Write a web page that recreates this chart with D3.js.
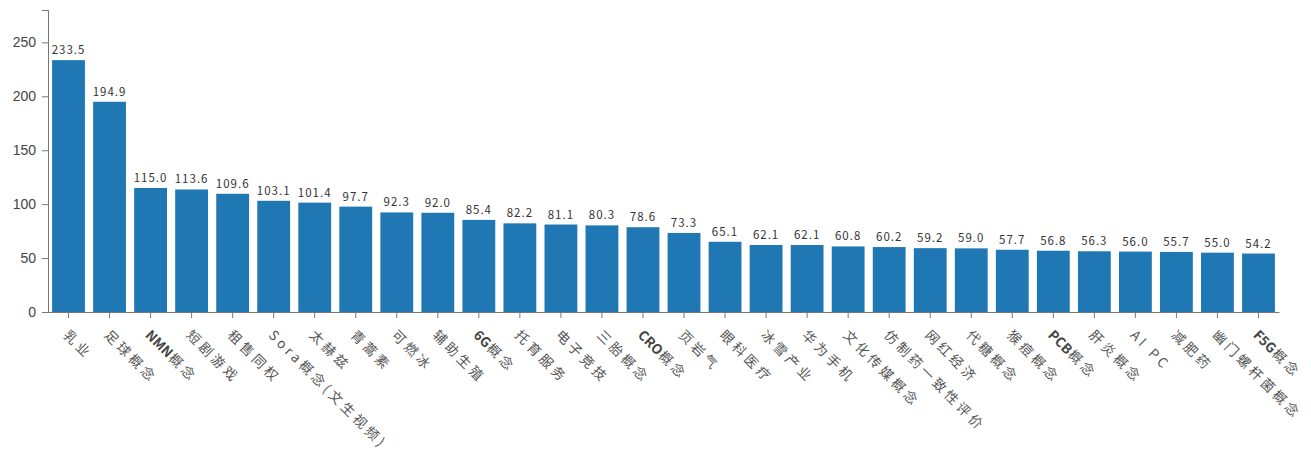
<!DOCTYPE html>
<html>
<head>
<meta charset="utf-8">
<script src="https://cdn.jsdelivr.net/npm/d3@7"></script>
<style>
  html, body { margin: 0; padding: 0; background: #fff; }
  svg { display: block; }
</style>
</head>
<body>
<svg id="chart" width="1311" height="459"></svg>
<script>
const categories = ["乳业","足球概念","NMN概念","短剧游戏","租售同权","Sora概念(文生视频)","太赫兹","青蒿素","可燃冰","辅助生殖","6G概念","托育服务","电子竞技","三胎概念","CRO概念","页岩气","眼科医疗","冰雪产业","华为手机","文化传媒概念","仿制药一致性评价","网红经济","代糖概念","猴痘概念","PCB概念","肝炎概念","AI PC","减肥药","幽门螺杆菌概念","F5G概念"];
const values = [233.5,194.9,115.0,113.6,109.6,103.1,101.4,97.7,92.3,92.0,85.4,82.2,81.1,80.3,78.6,73.3,65.1,62.1,62.1,60.8,60.2,59.2,59.0,57.7,56.8,56.3,56.0,55.7,55.0,54.2];
const yTicks = [0,50,100,150,200,250];

const svg = d3.select("#chart");
const mLeft = 48, mRight = 1279, mTop = 10, mBottom = 312;

const x = d3.scaleBand().domain(categories).range([mLeft, mRight]).paddingInner(0.2).paddingOuter(0.1);
const y = d3.scaleLinear().domain([0, 280]).range([mBottom, mTop]);

const data = categories.map((c, i) => ({c, v: values[i]}));

svg.append("g").selectAll("rect").data(data).join("rect")
  .attr("x", d => x(d.c))
  .attr("y", d => y(d.v))
  .attr("width", x.bandwidth())
  .attr("height", d => y(0) - y(d.v))
  .attr("fill", "#1f77b4");

svg.append("g").selectAll("text").data(data).join("text")
  .attr("x", d => x(d.c) + x.bandwidth() / 2)
  .attr("y", d => y(d.v) - 6)
  .attr("text-anchor", "middle")
  .attr("font-family", "'Noto Sans CJK SC', sans-serif")
  .attr("font-size", 11.5)
  .attr("letter-spacing", "1px")
  .attr("fill", "#333")
  .text(d => d.v.toFixed(1));

const yAxis = svg.append("g")
  .attr("transform", `translate(${mLeft},0)`)
  .call(d3.axisLeft(y).tickValues(yTicks).tickSize(6).tickPadding(6));
yAxis.select(".domain").attr("stroke", "#777");
yAxis.selectAll(".tick line").attr("stroke", "#777");
yAxis.selectAll(".tick text")
  .attr("font-family", "'Liberation Sans', Arial, sans-serif")
  .attr("font-size", 14)
  .attr("fill", "#444");

const xAxis = svg.append("g")
  .attr("transform", `translate(0,${mBottom})`)
  .call(d3.axisBottom(x).tickSize(6).tickSizeOuter(0));
xAxis.select(".domain").attr("stroke", "#777");
xAxis.selectAll(".tick line").attr("stroke", "#777");
xAxis.selectAll(".tick text")
  .attr("font-family", "'Noto Sans CJK SC', sans-serif")
  .attr("font-size", 13.5)
  .attr("letter-spacing", "3.5px")
  .attr("fill", "#555")
  .attr("text-anchor", "start")
  .attr("x", 0)
  .attr("y", 0)
  .attr("dy", 0)
  .attr("transform", "translate(-6,24) rotate(45)")
  .each(function(d) {
    const m = /^([A-Z0-9]+)(概念)$/.exec(d);
    if (m) {
      const t = d3.select(this).text(null);
      t.append("tspan").attr("letter-spacing", "0px").attr("font-weight", "bold").attr("fill", "#444").text(m[1]);
      t.append("tspan").attr("dx", 1).text(m[2]);
    }
  });
</script>
</body>
</html>
